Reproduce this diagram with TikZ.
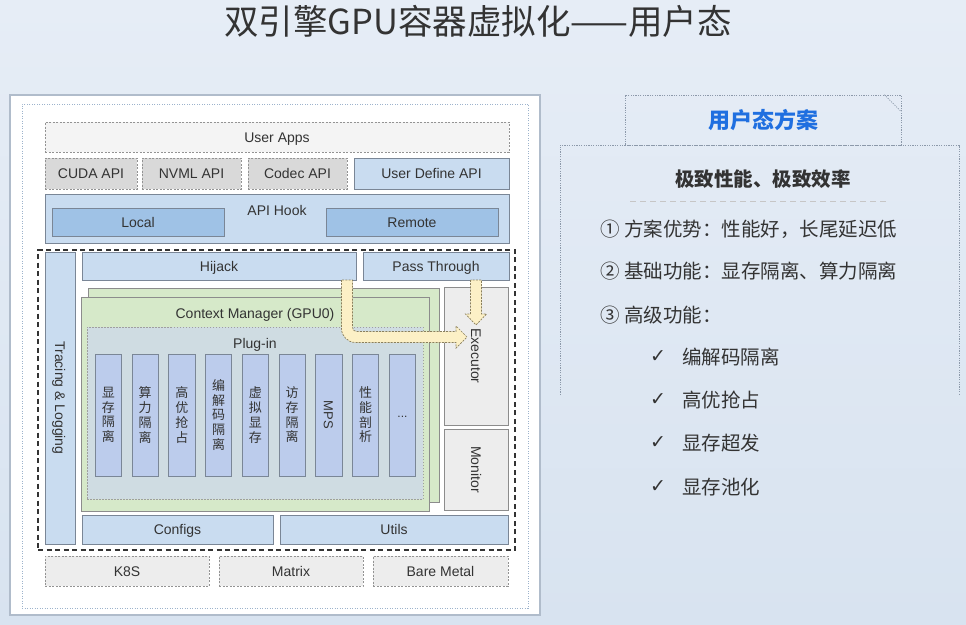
\documentclass[tikz,border=0pt]{standalone}
\usepackage{fontspec}
\setmainfont{Liberation Sans}
\newfontfamily\cjk{Noto Sans CJK SC}
\newfontfamily\symf{DejaVu Sans}
\usetikzlibrary{calc}

\definecolor{bgtop}{HTML}{E6EDF6}
\definecolor{bgbot}{HTML}{D8E3F0}
\definecolor{ink}{HTML}{333333}
\definecolor{edge}{HTML}{7A8696}
\definecolor{paleblue}{HTML}{C9DCF0}
\definecolor{midblue}{HTML}{9FC2E6}
\definecolor{plugblue}{HTML}{BCCCEC}
\definecolor{greenfill}{HTML}{D6E9C9}
\definecolor{pluggray}{HTML}{CFDCE2}
\definecolor{lgray}{HTML}{EDEDED}
\definecolor{vlgray}{HTML}{F4F4F4}
\definecolor{mgray}{HTML}{D9D9D9}
\definecolor{arrowfill}{HTML}{FCF0C6}
\definecolor{arrowedge}{HTML}{8A7F5C}
\definecolor{tabblue}{HTML}{1F6FE0}
\definecolor{paneledge}{HTML}{B0BCCB}
\definecolor{dotedge}{HTML}{9DB3CC}
\definecolor{rightedge}{HTML}{8C99AA}

% box from corner (x1,y1) to (x2,y2): style, name, x1, y1, x2, y2, text
\newcommand\mkbox[7]{%
  \node[#1, minimum width={(#5)-(#3)}, minimum height={(#6)-(#4)}]
    (#2) at ({((#3)+(#5))/2},{((#4)+(#6))/2}) {#7};}

\begin{document}
\begin{tikzpicture}[x=1pt,y=-1pt,
  frame/.style={draw=edge, line width=0.8pt, inner sep=0pt, outer sep=0pt, text=ink},
  box/.style={frame, font=\fontsize{14}{16}\selectfont, text height=10pt, text depth=0pt},
  solidbox/.style={box, fill=paleblue},
  darkbox/.style={box, fill=midblue},
  dashbox/.style={box, draw=gray!85, dash pattern=on 2pt off 1.5pt, fill=lgray},
  apibox/.style={dashbox, fill=mgray},
  greenbox/.style={box, draw=gray!90, fill=greenfill},
  greybox/.style={box, draw=gray!90, fill=lgray},
  plugcol/.style={frame, fill=plugblue, font=\cjk\fontsize{13}{14.7}\selectfont, align=center},
  lbl/.style={text=ink, font=\fontsize{14}{16}\selectfont, inner sep=0pt, text height=10pt, text depth=0pt},
  vlbl/.style={lbl, rotate=-90},
  yarrow/.style={fill=arrowfill, draw=arrowedge, line width=0.7pt, dash pattern=on 2pt off 1.2pt},
  rline/.style={draw=rightedge, line width=0.6pt, dash pattern=on 1.2pt off 1.2pt},
  item/.style={text=ink, font=\cjk\fontsize{19.5}{22}\selectfont, inner sep=0pt, anchor=west},
  check/.style={text=ink, font=\symf\fontsize{19}{22}\selectfont, inner sep=0pt},
]
\useasboundingbox (0,0) rectangle (966,624);
\fill[top color=bgtop, bottom color=bgbot] (0,0) rectangle (966,624);

% title
\node[text=ink, font=\cjk\fontsize{34.5}{36}\selectfont, inner sep=0pt] (title) at (478,21)
  {双引擎GPU容器虚拟化——用户态};

% ---------- architecture panel ----------
\mkbox{draw=paneledge, fill=white, line width=1.2pt, inner sep=0pt}{panel}{10}{95}{540}{615}{}
\mkbox{draw=dotedge, line width=0.7pt, dash pattern=on 1pt off 1.5pt, inner sep=0pt}{inner}{22}{104}{528}{608}{}

\mkbox{dashbox, fill=vlgray}{apps}{45}{122}{509}{152}{User Apps}
\mkbox{apibox}{cuda}{45}{158}{137}{189}{CUDA API}
\mkbox{apibox}{nvml}{142}{158}{241}{189}{NVML API}
\mkbox{apibox}{codec}{248}{158}{347}{189}{Codec API}
\mkbox{solidbox}{udef}{354}{158}{509}{189}{User Define API}

\mkbox{solidbox}{hook}{45}{194}{509}{243}{}
\node[lbl] (hooklbl) at ($(hook.north)+(0,16)$) {API Hook};
\mkbox{darkbox}{local}{52}{208}{224}{236}{Local}
\mkbox{darkbox}{remote}{326}{208}{498}{236}{Remote}

% runtime core
\mkbox{draw=ink, line width=1.6pt, dash pattern=on 5pt off 3.5pt, inner sep=0pt}{core}{38}{250}{515}{550}{}
\mkbox{solidbox}{tracing}{45}{252}{75}{544}{}
\node[vlbl] at (tracing.center) {Tracing \& Logging};
\mkbox{solidbox}{hijack}{82}{252}{356}{280}{Hijack}
\mkbox{solidbox}{pass}{363}{252}{509}{280}{Pass Through}

\mkbox{greenbox}{ctxback}{88}{288}{439}{502}{}
\mkbox{greenbox}{ctx}{81}{297}{429}{511}{}
\node[lbl] (ctxlbl) at ($(ctx.north)+(0,16)$) {Context Manager (GPU0)};
\mkbox{box, fill=pluggray, draw=gray!75, dash pattern=on 1.5pt off 1.5pt}{plug}{87}{327}{423}{499}{}
\node[lbl] (pluglbl) at ($(plug.north)+(0,16)$) {Plug-in};

\foreach \i/\t in {0/{显\\存\\隔\\离}, 1/{算\\力\\隔\\离}, 2/{高\\优\\抢\\占},
                   3/{编\\解\\码\\隔\\离}, 4/{虚\\拟\\显\\存}, 5/{访\\存\\隔\\离},
                   6/{}, 7/{性\\能\\剖\\析}, 8/{}} {
  \pgfmathsetmacro\xl{95.3+36.75*\i}
  \mkbox{plugcol}{col\i}{\xl}{354}{\xl+26.3}{476}{\t}
}
\node[vlbl, font=\fontsize{13}{15}\selectfont] at (col6.center) {MPS};
\node[lbl, font=\fontsize{12}{14}\selectfont, text height=4pt] at (col8.center) {...};

\mkbox{greybox}{executor}{444}{287}{508}{425}{}
\node[vlbl] at (executor.center) {Executor};
\mkbox{greybox}{monitor}{444}{429}{508}{510}{}
\node[vlbl] at (monitor.center) {Monitor};

\mkbox{solidbox}{configs}{82}{515}{273}{544}{Configs}
\mkbox{solidbox}{utils}{280}{515}{508}{544}{Utils}

\mkbox{dashbox}{k8s}{45}{556}{209}{586}{K8S}
\mkbox{dashbox}{matrix}{219}{556}{363}{586}{Matrix}
\mkbox{dashbox}{metal}{373}{556}{508}{586}{Bare Metal}

% call flow arrows
\coordinate (hs) at ($(hijack.south east)+(-9,0)$);
\coordinate (ht) at ($(executor.north west)+(23,50)$);
\coordinate (ps) at ($(pass.south east)+(-33,0)$);
\coordinate (pt) at ($(executor.north west)+(32,38)$);

\path[yarrow] ($(hs)+(-5.5,0)$) -- ($(hs |- ht)+(-5.5,-8.5)$)
  .. controls ($(hs |- ht)+(-5.5,-0.8)$) and ($(hs |- ht)+(0.8,5.5)$) .. ($(hs |- ht)+(8.5,5.5)$)
  -- ($(ht)+(-11,5.5)$) -- ($(ht)+(-11,11)$) -- (ht) -- ($(ht)+(-11,-11)$) -- ($(ht)+(-11,-5.5)$)
  -- ($(hs |- ht)+(9.5,-5.5)$)
  .. controls ($(hs |- ht)+(7.3,-5.5)$) and ($(hs |- ht)+(5.5,-7.3)$) .. ($(hs |- ht)+(5.5,-9.5)$)
  -- ($(hs)+(5.5,0)$) -- cycle;

\path[yarrow] ($(ps)+(-5.5,0)$) -- ($(pt)+(-5.5,-11)$) -- ($(pt)+(-10.5,-11)$) -- (pt)
  -- ($(pt)+(10.5,-11)$) -- ($(pt)+(5.5,-11)$) -- ($(ps)+(5.5,0)$) -- cycle;

% ---------- summary panel ----------
\mkbox{rline, inner sep=0pt, text=tabblue, font=\cjk\bfseries\fontsize{22}{24}\selectfont}{tab}{625}{95}{901}{145}{用户态方案}
\draw[rline] ($(tab.north east)+(-17,0)$) -- ($(tab.north east)+(0,17)$);
\draw[rline] (560,395) -- (560,145) -- (959,145) -- (959,395);

\node[text=ink, font=\cjk\bfseries\fontsize{19.5}{22}\selectfont, inner sep=0pt] (motto) at (763,179)
  {极致性能、极致效率};
\draw[gray!45, line width=0.8pt, dash pattern=on 6pt off 4pt] (630,201) -- (888,201);

\node[item] (adv) at (600,229) {① 方案优势：性能好，长尾延迟低};
\node[item] (basic) at (600,271) {② 基础功能：显存隔离、算力隔离};
\node[item] (adv3) at (600,315) {③ 高级功能：};

\foreach \y/\t [count=\k] in {357/编解码隔离, 400/高优抢占, 443/显存超发, 487/显存池化} {
  \node[check] (chk\k) at (658,\y) {✓};
  \node[item] (feat\k) at (682,\y) {\t};
}
\end{tikzpicture}
\end{document}
